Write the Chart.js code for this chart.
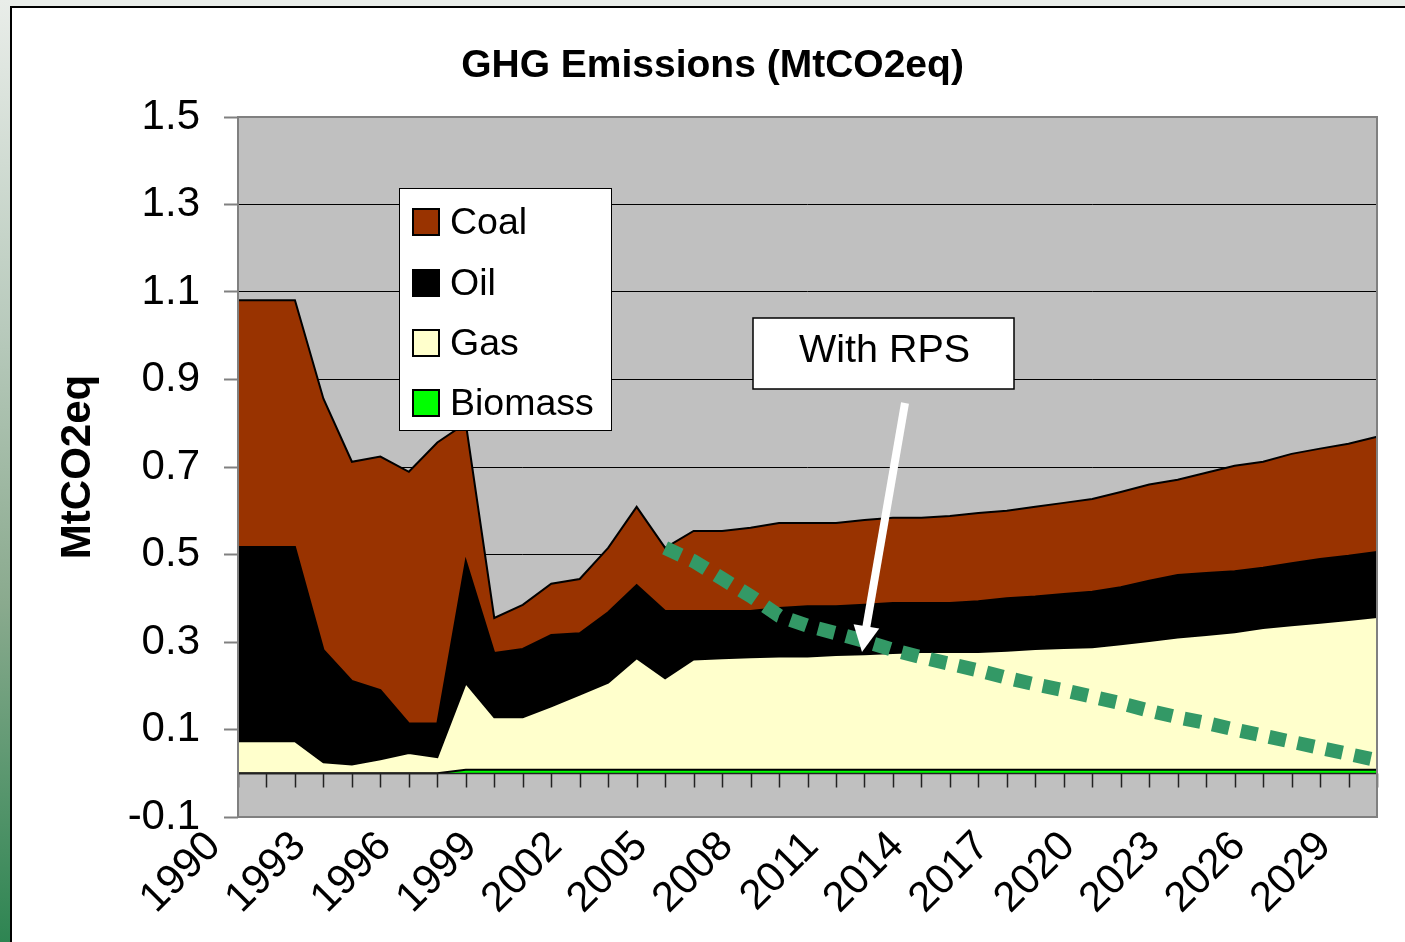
<!DOCTYPE html>
<html>
<head>
<meta charset="utf-8">
<script src="https://cdn.jsdelivr.net/npm/chart.js@4.4.0/dist/chart.umd.min.js"></script>
<style>
html,body{margin:0;padding:0;width:1405px;height:942px;overflow:hidden;background:#e9ede9;}
#strip{position:absolute;left:0;top:0;width:10px;height:942px;background:linear-gradient(to bottom,#e9ede9 0%,#b8cabc 35%,#8aaa8e 64%,#2e8552 100%);}
#panel{position:absolute;left:10px;top:6px;width:1400px;height:940px;background:#fff;border-left:2px solid #000;border-top:2px solid #000;}
#c{position:absolute;left:0;top:0;}
</style>
</head>
<body>
<div id="strip"></div>
<div id="panel"></div>
<canvas id="c" width="1405" height="942"></canvas>
<script>
// ---------- data ----------
const years = ['1990','1991','1992','1993','1994','1995','1996','1997','1998','1999',
  '2000','2001','2002','2003','2004','2005','2006','2007','2008','2009',
  '2010','2011','2012','2013','2014','2015','2016','2017','2018','2019',
  '2020','2021','2022','2023','2024','2025','2026','2027','2028','2029','2030'];

const xTickLabels = ['1990','1993','1996','1999','2002','2005','2008','2011','2014','2017','2020','2023','2026','2029'];
const yTickValues = [-0.1, 0.1, 0.3, 0.5, 0.7, 0.9, 1.1, 1.3, 1.5];

const biomass = [0,0,0,0,0,0,0,0,0.008,0.008,
  0.008,0.008,0.008,0.008,0.008,0.008,0.008,0.008,0.008,0.008,
  0.008,0.008,0.008,0.008,0.008,0.008,0.008,0.008,0.008,0.008,
  0.008,0.008,0.008,0.008,0.008,0.008,0.008,0.008,0.008,0.008,0.008];

const gas = [0.073,0.073,0.073,0.025,0.020,0.032,0.046,0.037,0.198,0.120,
  0.120,0.145,0.172,0.199,0.255,0.209,0.252,0.255,0.257,0.259,
  0.259,0.262,0.264,0.267,0.269,0.269,0.269,0.272,0.276,0.278,
  0.280,0.287,0.294,0.302,0.308,0.314,0.324,0.330,0.336,0.342,0.349];

const oil = [0.444,0.444,0.444,0.257,0.191,0.158,0.068,0.077,0.279,0.147,
  0.156,0.163,0.140,0.161,0.167,0.154,0.111,0.108,0.106,0.111,
  0.115,0.112,0.113,0.114,0.112,0.112,0.116,0.120,0.120,0.124,
  0.127,0.130,0.138,0.143,0.142,0.140,0.138,0.142,0.146,0.147,0.149];

const coal = [0.564,0.564,0.564,0.574,0.501,0.534,0.575,0.642,0.315,0.080,
  0.101,0.117,0.124,0.147,0.179,0.144,0.183,0.183,0.190,0.194,
  0.190,0.190,0.194,0.195,0.195,0.199,0.202,0.200,0.205,0.208,
  0.212,0.218,0.220,0.218,0.229,0.241,0.242,0.250,0.252,0.256,0.263];

const withRPS = [null,null,null,null,null,null,null,null,null,null,
  null,null,null,null,null,0.515,0.485,0.445,0.405,0.360,
  0.337,0.320,0.302,0.282,0.265,0.250,0.235,0.218,0.203,0.190,
  0.175,0.160,0.143,0.128,0.115,0.100,0.086,0.072,0.058,0.044,0.030];

const legendOrder = ['Coal','Oil','Gas','Biomass'];
const noteText = 'With RPS';

// ---------- drawing ----------
const FONT = "'Liberation Sans', Arial, Helvetica, sans-serif";

const decor = {
  id: 'decor',
  beforeDraw(chart) {
    const {ctx, chartArea: a} = chart;
    ctx.save();
    ctx.fillStyle = '#c0c0c0';
    ctx.fillRect(a.left, a.top, a.right - a.left, a.bottom - a.top);
    ctx.restore();
  },
  afterDatasetsDraw(chart) {
    const {ctx, chartArea: a, scales} = chart;
    const xs = scales.x, ys = scales.y;
    ctx.save();
    // zero axis with tick marks
    const y0 = Math.round(ys.getPixelForValue(0)) + 0.5;
    ctx.strokeStyle = '#222';
    ctx.lineWidth = 1.5;
    ctx.beginPath();
    ctx.moveTo(a.left, y0); ctx.lineTo(a.right, y0);
    for (let i = 0; i < years.length; i++) {
      const x = Math.round(xs.getPixelForValue(i)) + 0.5;
      ctx.moveTo(x, y0); ctx.lineTo(x, y0 + 14);
    }
    ctx.stroke();

    // plot border
    ctx.strokeStyle = '#808080';
    ctx.lineWidth = 2;
    ctx.strokeRect(a.left, a.top, a.right - a.left, a.bottom - a.top);

    // legend
    const lx = a.left + 161, ly = a.top + 71, lw = 212, lh = 242;
    ctx.fillStyle = '#fff';
    ctx.fillRect(lx, ly, lw, lh);
    ctx.strokeStyle = '#000';
    ctx.lineWidth = 1;
    ctx.strokeRect(lx + 0.5, ly + 0.5, lw, lh);
    const rows = [34, 95, 155, 215];
    ctx.font = '37.5px ' + FONT;
    ctx.textBaseline = 'middle';
    ctx.textAlign = 'left';
    legendOrder.forEach((name, k) => {
      const ds = chart.data.datasets.find(d => d.label === name);
      const cy = ly + rows[k];
      ctx.fillStyle = ds.backgroundColor;
      ctx.fillRect(lx + 14, cy - 13, 26, 26);
      ctx.strokeStyle = '#000';
      ctx.lineWidth = 2;
      ctx.strokeRect(lx + 14, cy - 13, 26, 26);
      ctx.fillStyle = '#000';
      ctx.fillText(name, lx + 51, cy + 2);
    });

    // annotation box
    const bx = a.left + 515, by = a.top + 201, bw = 261, bh = 71;
    ctx.fillStyle = '#fff';
    ctx.fillRect(bx, by, bw, bh);
    ctx.strokeStyle = '#000';
    ctx.lineWidth = 1.5;
    ctx.strokeRect(bx, by, bw, bh);
    ctx.fillStyle = '#000';
    ctx.font = '39.5px ' + FONT;
    ctx.textAlign = 'center';
    ctx.fillText(noteText, bx + bw / 2 + 1, by + bh / 2 - 2);

    // arrow
    const sx = a.left + 667, sy = a.top + 286;
    const tx = a.left + 624, ty = a.top + 535;
    const dx = tx - sx, dy = ty - sy, len = Math.hypot(dx, dy);
    const ux = dx / len, uy = dy / len, nx = -uy, ny = ux;
    const hl = 26, hw = 13;
    const bcx = tx - hl * ux, bcy = ty - hl * uy;
    ctx.strokeStyle = '#fff';
    ctx.lineWidth = 8;
    ctx.lineCap = 'butt';
    ctx.beginPath();
    ctx.moveTo(sx, sy); ctx.lineTo(bcx + ux * 2, bcy + uy * 2);
    ctx.stroke();
    ctx.fillStyle = '#fff';
    ctx.beginPath();
    ctx.moveTo(tx, ty);
    ctx.lineTo(bcx + hw * nx, bcy + hw * ny);
    ctx.lineTo(bcx - hw * nx, bcy - hw * ny);
    ctx.closePath();
    ctx.fill();
    ctx.restore();
  }
};

const areaCommon = {borderColor: '#000', borderWidth: 2, pointRadius: 0, tension: 0, stack: 'ghg', order: 1};

new Chart(document.getElementById('c'), {
  type: 'line',
  data: {
    labels: years,
    datasets: [
      Object.assign({label: 'Biomass', data: biomass, backgroundColor: '#00ff00', fill: 'origin'}, areaCommon),
      Object.assign({label: 'Gas', data: gas, backgroundColor: '#ffffcc', fill: '-1'}, areaCommon),
      Object.assign({label: 'Oil', data: oil, backgroundColor: '#000000', fill: '-1'}, areaCommon),
      Object.assign({label: 'Coal', data: coal, backgroundColor: '#993300', fill: '-1'}, areaCommon),
      {label: 'With RPS', data: withRPS, borderColor: '#339966', backgroundColor: '#339966',
       borderWidth: 14, borderDash: [17, 12], borderCapStyle: 'butt', fill: false,
       pointRadius: 0, tension: 0, stack: 'rps', order: 0}
    ]
  },
  options: {
    responsive: false,
    animation: false,
    devicePixelRatio: 1,
    layout: {padding: {top: 43, left: 48, right: 28, bottom: 0}},
    plugins: {
      legend: {display: false},
      tooltip: {enabled: false},
      title: {
        display: true, text: 'GHG Emissions (MtCO2eq)', color: '#000',
        font: {family: FONT, size: 39, weight: 'bold'},
        padding: {top: 0, bottom: 27.2}
      }
    },
    scales: {
      x: {
        type: 'category', offset: false,
        grid: {display: false, drawTicks: false},
        border: {display: false},
        ticks: {
          autoSkip: false, minRotation: 45, maxRotation: 45, padding: 5, labelOffset: -24,
          color: '#000', font: {family: FONT, size: 42},
          callback: function(v, i) { const l = years[i]; return xTickLabels.includes(l) ? l : ''; }
        },
        afterFit: function(s) { s.height = 125; s.paddingLeft = 0; s.paddingRight = 0; }
      },
      y: {
        stacked: true, min: -0.1, max: 1.5,
        afterBuildTicks: function(s) { s.ticks = yTickValues.map(v => ({value: v})); },
        ticks: {
          padding: 24, color: '#000', font: {family: FONT, size: 42},
          callback: function(v) { return Number(v).toFixed(1); }
        },
        grid: {color: '#000', lineWidth: 1, drawTicks: true, tickLength: 14, tickColor: '#808080', tickWidth: 2},
        border: {display: false},
        title: {display: true, text: 'MtCO2eq', color: '#000',
          font: {family: FONT, size: 42, weight: 'bold'}, padding: {top: 5, bottom: 0}},
        afterFit: function(s) { s.width = 190; s.paddingTop = 0; s.paddingBottom = 0; }
      }
    }
  },
  plugins: [decor]
});
</script>
</body>
</html>
